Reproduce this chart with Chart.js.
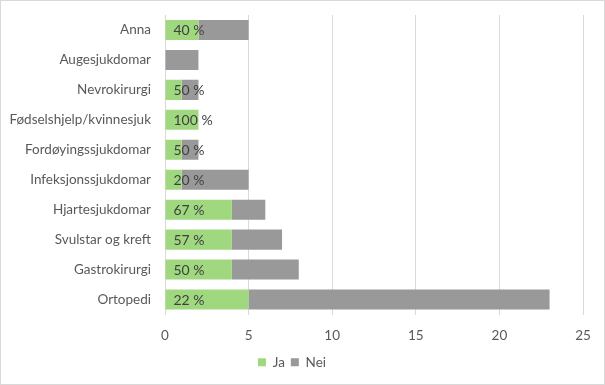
<!DOCTYPE html>
<html>
<head>
<meta charset="utf-8">
<script src="https://cdn.jsdelivr.net/npm/chart.js@4"></script>
<style>
  html, body { margin: 0; padding: 0; background: #fff; }
  #wrap { width: 603px; height: 383px; border: 1px solid #d9d9d9; }
</style>
</head>
<body>
<div id="wrap"><canvas id="chart" width="603" height="383"></canvas></div>
<script>
// Data
const categories = ['Anna', 'Augesjukdomar', 'Nevrokirurgi', 'Fødselshjelp/kvinnesjuk', 'Fordøyingssjukdomar',
  'Infeksjonssjukdomar', 'Hjartesjukdomar', 'Svulstar og kreft', 'Gastrokirurgi', 'Ortopedi'];
const jaValues = [2, 0, 1, 2, 1, 1, 4, 4, 4, 5];
const neiValues = [3, 2, 1, 0, 1, 4, 2, 3, 4, 18];
const percentLabels = ['40 %', '', '50 %', '100 %', '50 %', '20 %', '67 %', '57 %', '50 %', '22 %'];
const xTicks = [0, 5, 10, 15, 20, 25];

const GREEN = '#a0d880';
const GREY = '#999999';
const FONT = 'Lato';

// Percent labels drawn at the base of the Ja bar
const percentPlugin = {
    id: 'percentLabels',
    afterDatasetsDraw(chart) {
        const ctx = chart.ctx;
        const meta = chart.getDatasetMeta(0);
        ctx.save();
        ctx.font = '14px ' + FONT;
        ctx.fillStyle = '#404040';
        ctx.textAlign = 'left';
        ctx.textBaseline = 'middle';
        meta.data.forEach((bar, i) => {
            if (!percentLabels[i]) return;
            ctx.fillText(percentLabels[i], bar.base + 8, bar.y + 1);
        });
        ctx.restore();
    }
};

// drop the label padding chart.js adds, so layout.padding sets the plot area
function noLabelPadding(scale) {
    scale.paddingTop = 0;
    scale.paddingBottom = 0;
    scale.paddingLeft = 0;
    scale.paddingRight = 0;
}

const ctx = document.getElementById('chart').getContext('2d');
new Chart(ctx, {
    type: 'bar',
    data: {
        labels: categories,
        datasets: [
            { label: 'Ja', data: jaValues, backgroundColor: GREEN, barPercentage: 0.67, categoryPercentage: 1 },
            { label: 'Nei', data: neiValues, backgroundColor: GREY, barPercentage: 0.67, categoryPercentage: 1 }
        ]
    },
    options: {
        indexAxis: 'y',
        responsive: false,
        animation: false,
        layout: { padding: { left: 0, right: 21, top: 14, bottom: 5 } },
        scales: {
            x: {
                stacked: true,
                min: 0,
                max: 25,
                afterBuildTicks: (scale) => { scale.ticks = xTicks.map(v => ({ value: v })); },
                grid: { color: '#d9d9d9', drawTicks: false },
                border: { display: false },
                ticks: { color: '#595959', font: { family: FONT, size: 13.5 }, padding: 13 },
                afterFit: (scale) => { scale.height = 35; noLabelPadding(scale); }
            },
            y: {
                stacked: true,
                grid: { display: false, drawTicks: false },
                border: { display: false },
                ticks: { color: '#595959', font: { family: FONT, size: 13.5 }, padding: 14 },
                afterFit: (scale) => { scale.width = 164; noLabelPadding(scale); }
            }
        },
        plugins: {
            legend: {
                position: 'bottom',
                labels: { boxWidth: 8, boxHeight: 8, color: '#595959', font: { family: FONT, size: 13.5 }, padding: 6 }
            },
            tooltip: { enabled: false }
        }
    },
    plugins: [percentPlugin]
});
</script>
</body>
</html>
